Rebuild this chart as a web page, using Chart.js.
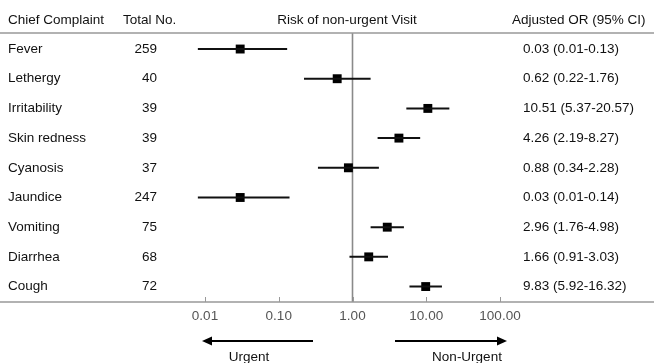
<!DOCTYPE html>
<html lang="en">
<head>
<meta charset="UTF-8">
<title>Risk of non-urgent Visit</title>
<script src="https://cdn.jsdelivr.net/npm/chart.js"></script>
<style>
  html, body { margin: 0; padding: 0; background: #fff; }
  #wrap { width: 654px; height: 363px; }
</style>
</head>
<body>
<div id="wrap"><canvas id="forest" width="654" height="363"></canvas></div>
<script>
// data
const complaints = ['Fever', 'Lethergy', 'Irritability', 'Skin redness', 'Cyanosis', 'Jaundice', 'Vomiting', 'Diarrhea', 'Cough'];
const totals = [259, 40, 39, 39, 37, 247, 75, 68, 72];
const oddsRatios = [0.03, 0.62, 10.51, 4.26, 0.88, 0.03, 2.96, 1.66, 9.83];
const ciLow = [0.008, 0.22, 5.37, 2.19, 0.34, 0.008, 1.76, 0.91, 5.92];
const ciHigh = [0.13, 1.76, 20.57, 8.27, 2.28, 0.14, 4.98, 3.03, 16.32];
const orLabels = ['0.03 (0.01-0.13)', '0.62 (0.22-1.76)', '10.51 (5.37-20.57)', '4.26 (2.19-8.27)',
                  '0.88 (0.34-2.28)', '0.03 (0.01-0.14)', '2.96 (1.76-4.98)', '1.66 (0.91-3.03)', '9.83 (5.92-16.32)'];
const tickValues = [0.01, 0.1, 1, 10, 100];
const tickLabels = ['0.01', '0.10', '1.00', '10.00', '100.00'];

const FONT = '13.5px "Liberation Sans", Arial, sans-serif';

// one short line per row for the confidence interval
const whiskers = complaints.map((c, i) => ({
    type: 'scatter',
    data: [{ x: ciLow[i], y: i }, { x: ciHigh[i], y: i }],
    showLine: true,
    borderColor: '#111',
    borderWidth: 2,
    pointRadius: 0,
    clip: false
}));

const squares = {
    type: 'scatter',
    data: oddsRatios.map((v, i) => ({ x: v, y: i })),
    pointStyle: 'rect',
    pointRadius: 6.3,
    backgroundColor: '#000',
    borderColor: '#000',
    borderWidth: 0,
    clip: false
};

function arrow(ctx, x1, x2, y) {
    const dir = Math.sign(x2 - x1);
    ctx.beginPath();
    ctx.moveTo(x1, y);
    ctx.lineTo(x2 - dir * 8, y);
    ctx.stroke();
    ctx.beginPath();
    ctx.moveTo(x2, y);
    ctx.lineTo(x2 - dir * 10, y - 4.5);
    ctx.lineTo(x2 - dir * 10, y + 4.5);
    ctx.closePath();
    ctx.fill();
}

const forestTable = {
    id: 'forestTable',
    beforeDatasetsDraw(chart) {
        const { ctx, chartArea, scales: { x } } = chart;
        const px = x.getPixelForValue(1);
        ctx.save();
        ctx.strokeStyle = '#8a8a8a';
        ctx.lineWidth = 1.6;
        ctx.beginPath();
        ctx.moveTo(px, chartArea.top);
        ctx.lineTo(px, chartArea.bottom);
        ctx.stroke();
        ctx.restore();
    },
    afterDraw(chart) {
        const { ctx, chartArea, scales: { x, y } } = chart;
        const W = chart.width;
        ctx.save();

        // rules above and below the table
        ctx.strokeStyle = '#999';
        ctx.lineWidth = 1.5;
        ctx.beginPath();
        ctx.moveTo(0, chartArea.top); ctx.lineTo(W, chartArea.top);
        ctx.moveTo(0, chartArea.bottom); ctx.lineTo(W, chartArea.bottom);
        ctx.stroke();

        // small ticks pointing up
        ctx.lineWidth = 1;
        ctx.beginPath();
        tickValues.forEach(v => {
            const px = Math.round(x.getPixelForValue(v)) + 0.5;
            ctx.moveTo(px, chartArea.bottom - 5);
            ctx.lineTo(px, chartArea.bottom);
        });
        ctx.stroke();

        // header
        ctx.font = FONT;
        ctx.fillStyle = '#111';
        ctx.textBaseline = 'middle';
        ctx.textAlign = 'left';
        ctx.fillText('Chief Complaint', 8, 20);
        ctx.fillText('Total No.', 123, 20);
        ctx.fillText('Adjusted OR (95% CI)', 512, 20);
        ctx.textAlign = 'center';
        ctx.fillText('Risk of non-urgent Visit', 347, 20);

        // rows
        complaints.forEach((c, i) => {
            const py = y.getPixelForValue(i);
            ctx.textAlign = 'left';
            ctx.fillText(c, 8, py);
            ctx.fillText(orLabels[i], 523, py);
            ctx.textAlign = 'right';
            ctx.fillText(String(totals[i]), 157, py);
        });

        // direction arrows
        ctx.strokeStyle = '#000';
        ctx.fillStyle = '#000';
        ctx.lineWidth = 2;
        arrow(ctx, 313, 202, 341);
        arrow(ctx, 395, 507, 341);
        ctx.fillStyle = '#111';
        ctx.textAlign = 'center';
        ctx.fillText('Urgent', 249, 357);
        ctx.fillText('Non-Urgent', 467, 357);

        ctx.restore();
    }
};

new Chart(document.getElementById('forest'), {
    type: 'scatter',
    data: { datasets: [...whiskers, squares] },
    options: {
        responsive: false,
        animation: false,
        events: [],
        layout: { padding: { left: 205, right: 154, top: 33, bottom: 0 } },
        plugins: { legend: { display: false }, tooltip: { enabled: false } },
        scales: {
            x: {
                type: 'logarithmic',
                min: 0.01,
                max: 100,
                afterBuildTicks(scale) {
                    scale.ticks = tickValues.map(v => ({ value: v }));
                },
                afterFit(scale) { scale.height = 61; },
                border: { display: false },
                grid: { display: false, drawTicks: false },
                ticks: {
                    padding: 6,
                    color: '#555',
                    font: { family: '"Liberation Sans", Arial, sans-serif', size: 13.5 },
                    maxRotation: 0,
                    autoSkip: false,
                    callback: (v, idx) => tickLabels[idx]
                }
            },
            y: {
                type: 'linear',
                display: false,
                reverse: true,
                min: -0.54,
                max: 8.52
            }
        }
    },
    plugins: [forestTable]
});
</script>
</body>
</html>
